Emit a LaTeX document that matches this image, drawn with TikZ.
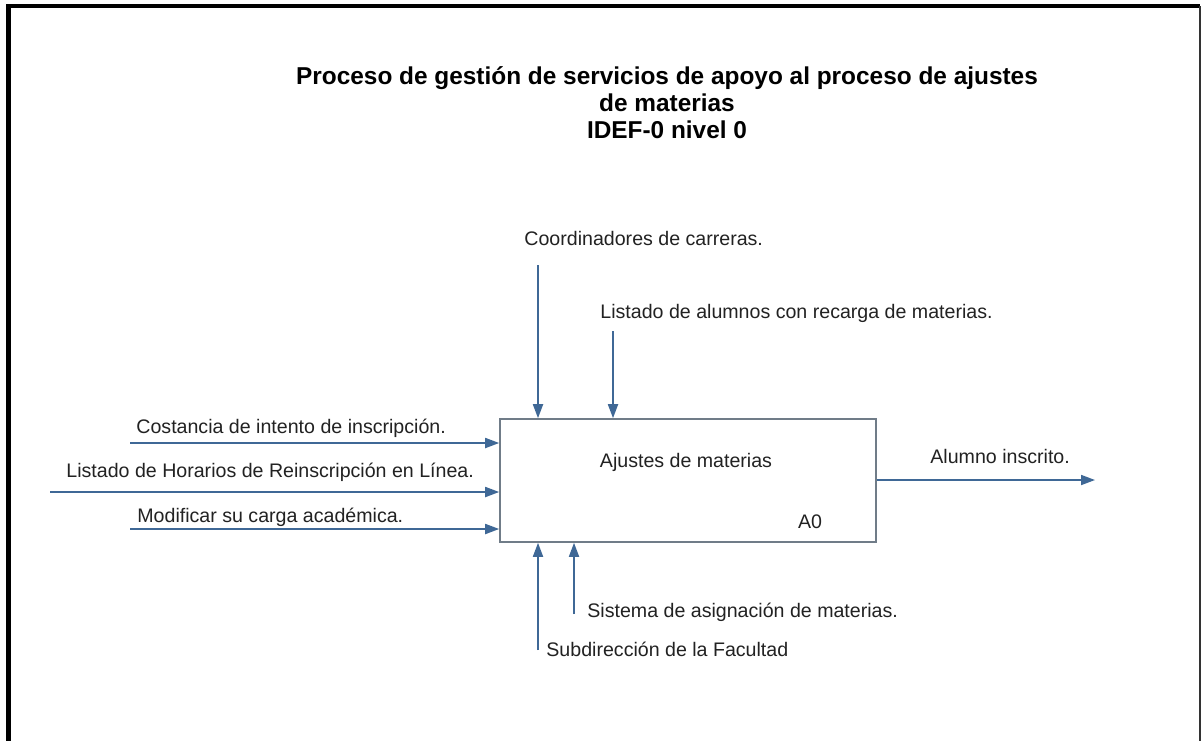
\documentclass[tikz,border=0pt]{standalone}
\usepackage{fontspec}
\setmainfont{Liberation Sans}
\usetikzlibrary{arrows.meta}
\definecolor{flecha}{HTML}{3F6896}
\definecolor{borde}{HTML}{707C88}
\definecolor{texto}{HTML}{222222}
\begin{document}
\begin{tikzpicture}[x=0.5pt,y=-0.5pt,
  flujo/.style={-{Triangle[length=7pt,width=5pt]}, draw=flecha, line width=0.9pt},
  etiqueta/.style={font=\fontsize{9.8}{11}\selectfont, text=texto, inner sep=0pt, anchor=west},
  titulo/.style={font=\fontsize{12.2}{13.5}\selectfont\bfseries, text=black, inner sep=0pt, align=center}]
\useasboundingbox (0,0) rectangle (1202,740);
\fill[white] (0,0) rectangle (1202,740);
% marco
\draw[line width=2.2pt] (8.5,745) -- (8.5,6) -- (1200,6);
\draw[line width=0.9pt, black!80] (1200,6) -- (1200,745);
% titulo
\node[titulo] (T) at (667,103) {Proceso de gestión de servicios de apoyo al proceso de ajustes\\de materias\\IDEF-0 nivel 0};
% actividad
\node[draw=borde, line width=0.8pt, minimum width=188pt, minimum height=61.5pt, inner sep=0pt] (A0) at (688,480.5) {};
\node[etiqueta, anchor=center] (nombre) at (686,462) {Ajustes de materias};
\node[etiqueta, anchor=center] (num) at (810,522) {A0};
% controles
\node[etiqueta] (C1) at (524,238) {Coordinadores de carreras.};
\node[etiqueta] (C2) at (600,313) {Listado de alumnos con recarga de materias.};
\coordinate (c1) at (538,265);
\coordinate (c2) at (613,331);
% entradas
\node[etiqueta] (E1) at (136,428) {Costancia de intento de inscripción.};
\node[etiqueta] (E2) at (66,472) {Listado de Horarios de Reinscripción en Línea.};
\node[etiqueta] (E3) at (137,517) {Modificar su carga académica.};
\coordinate (e1) at (130,443);
\coordinate (e2) at (50,492);
\coordinate (e3) at (130,529);
% salida
\node[etiqueta] (S1) at (930,456) {Alumno inscrito.};
\coordinate (s1) at (1095,480);
% mecanismos
\node[etiqueta] (M1) at (587,612) {Sistema de asignación de materias.};
\node[etiqueta] (M2) at (546,649) {Subdirección de la Facultad};
\coordinate (m1) at (574,614);
\coordinate (m2) at (538,650);
\draw[flujo] (c1) -- (c1 |- A0.north);
\draw[flujo] (c2) -- (c2 |- A0.north);
\draw[flujo] (e1) -- (e1 -| A0.west);
\draw[flujo] (e2) -- (e2 -| A0.west);
\draw[flujo] (e3) -- (e3 -| A0.west);
\draw[flujo] (s1 -| A0.east) -- (s1);
\draw[flujo] (m1) -- (m1 |- A0.south);
\draw[flujo] (m2) -- (m2 |- A0.south);
\end{tikzpicture}
\end{document}
